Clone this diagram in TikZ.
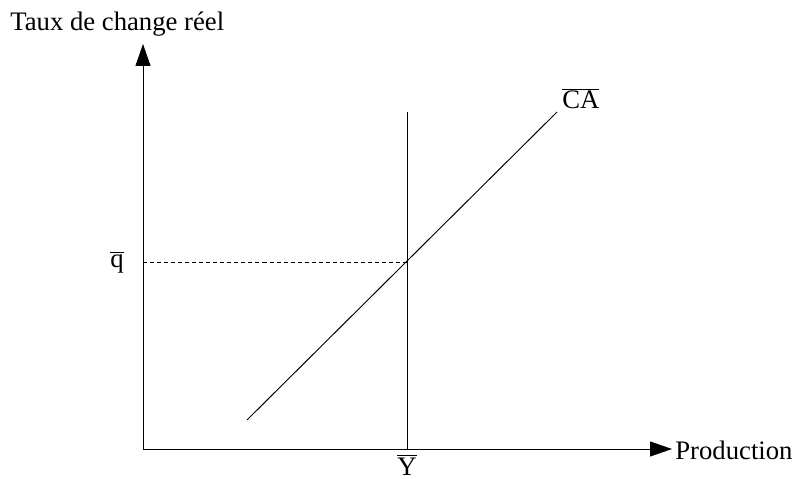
\documentclass[tikz,border=0pt]{standalone}
\usepackage{fontspec}
\setmainfont{Liberation Serif}
\usetikzlibrary{arrows.meta}

\begin{document}
\begin{tikzpicture}[x=0.02cm,y=-0.02cm,
    axe/.style={line width=0.55pt,-{Triangle[length=0.44cm,width=0.3cm]}},
    courbe/.style={line width=0.55pt},
    lbl/.style={font=\fontsize{15.2}{18}\selectfont, inner sep=0pt}]
  \useasboundingbox (0,0) rectangle (794,479);

  % axes
  \coordinate (O) at (143,449);
  \coordinate (ytop) at (143,44);
  \coordinate (xend) at (672,449);
  \draw[axe] (O) -- (ytop);
  \draw[axe] (O) -- (xend);
  \node[lbl, anchor=base west] (ylab) at (10,31) {Taux de change réel};
  \node[lbl, anchor=base west] (xlab) at (675,459) {Production};

  % courbes
  \coordinate (E) at (407,262);
  \coordinate (ybas) at (407,449);
  \coordinate (yhaut) at (407,112);
  \coordinate (cadeb) at (247,420);
  \coordinate (cafin) at (557,112);
  \draw[courbe] (ybas) -- (yhaut);
  \draw[courbe] (cadeb) -- (cafin);
  \coordinate (qaxe) at (143,262);
  \draw[courbe, dash pattern=on 2.3pt off 1.7pt] (qaxe) -- (E);

  \node[lbl, anchor=base] (ybar) at (407,475) {$\overline{\mbox{Y}}$};
  \node[lbl, anchor=base west] (qbar) at (110,268) {$\overline{\mbox{q}}$};
  \node[lbl, anchor=base west] (cabar) at (562,109) {$\overline{\mbox{CA}}$};
\end{tikzpicture}
\end{document}
